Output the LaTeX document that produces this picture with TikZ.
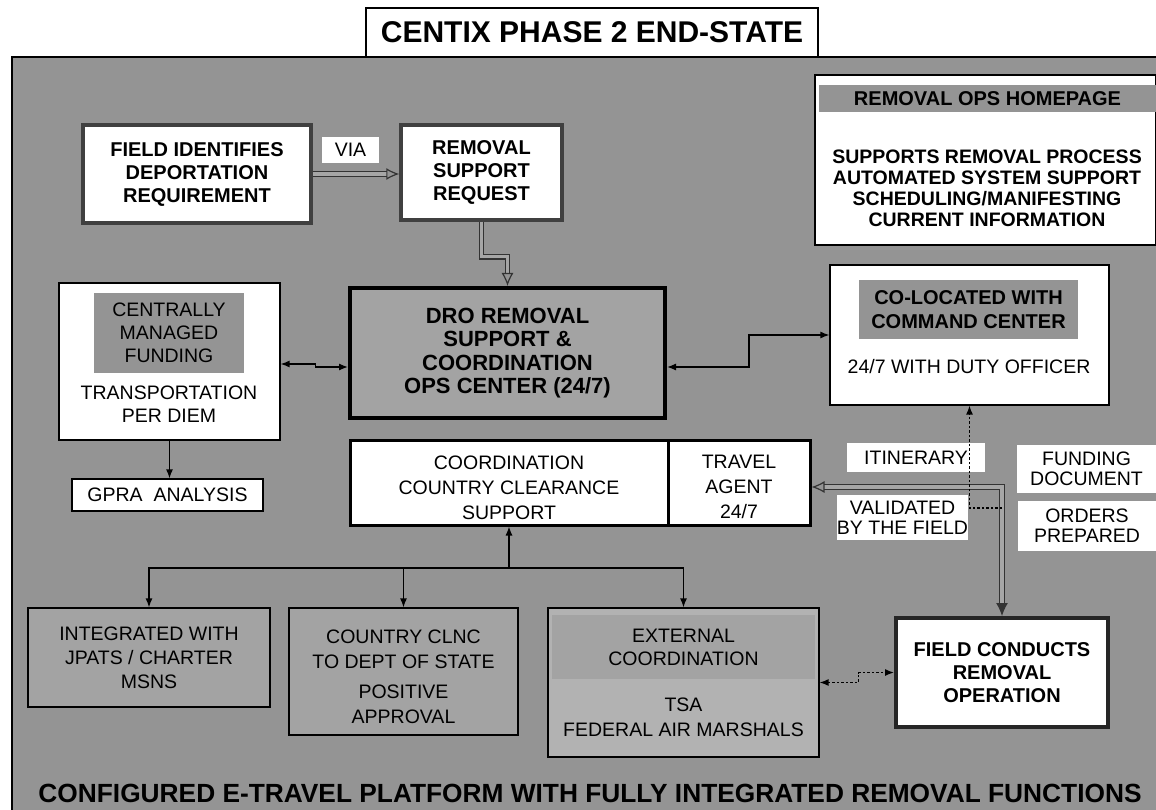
\documentclass[tikz,border=0pt]{standalone}
\usepackage{fontspec}
\setmainfont{Liberation Sans}
\usetikzlibrary{positioning,calc,arrows.meta}

\definecolor{bggray}{gray}{0.58}
\definecolor{boxgray}{gray}{0.64}
\definecolor{stripgray}{gray}{0.58}
\newcommand{\plainfont}{\fontsize{19.5}{23}\selectfont}
\newcommand{\headfont}{\fontsize{20}{23}\selectfont\bfseries}

\begin{document}
\begin{tikzpicture}[x=1pt, y=-1pt,
  box/.style={draw, line width=1.2pt, fill=white, inner sep=0pt, align=center, font=\plainfont},
  keybox/.style={draw=black!75, line width=3.5pt, fill=white, inner sep=0pt, align=center, font=\headfont},
  heavybox/.style={draw, line width=3pt, fill=white, inner sep=0pt, align=center, font=\plainfont},
  greybox/.style={draw, line width=1.2pt, fill=boxgray, inner sep=0pt, align=center, font=\plainfont},
  strip/.style={fill=stripgray, inner sep=0pt, align=center},
  tag/.style={fill=white, inner sep=0pt, align=center, font=\plainfont},
  txt/.style={inner sep=0pt, align=center, font=\plainfont},
  link/.style={line width=1.3pt, -{Latex[length=9pt,width=7pt]}},
  twolink/.style={line width=1.3pt, {Latex[length=9pt,width=7pt]}-{Latex[length=9pt,width=7pt]}},
  dotlink/.style={line width=1.3pt, dash pattern=on 2.5pt off 2pt},
  fatlink/.style={draw=black!80, line width=1.2pt, double=black!35, double distance=3.5pt},
]
\useasboundingbox (0,0) rectangle (1156,810);

% background panel
\fill[bggray] (12,57) rectangle (1156,810);
\draw[line width=1.2pt] (12,810) -- (12,57) -- (1156,57);

\node[draw, line width=1.2pt, fill=white, minimum width=452pt, minimum height=49pt,
  font=\fontsize{30}{34}\selectfont\bfseries] (title) at (592,32.5) {CENTIX PHASE 2 END-STATE};

% top row
\node[keybox, minimum width=228pt, minimum height=98pt] (field) at (197,174) {FIELD IDENTIFIES\\DEPORTATION\\REQUIREMENT};
\node[tag, minimum width=57pt, minimum height=26pt] (via) at (350.5,150) {VIA};
\node[keybox, minimum width=161pt, minimum height=95pt] (req) at (481.5,172.5) {REMOVAL\\SUPPORT\\REQUEST};

\node[box, minimum width=341pt, minimum height=170pt] (home) at (985.5,160) {};
\node[strip, minimum width=337pt, minimum height=27pt, font=\headfont] (homehead) at (987.5,98.5) {REMOVAL OPS HOMEPAGE};
\node[txt, font=\fontsize{19.5}{21}\selectfont\bfseries] (hometext) at (987,188) {SUPPORTS REMOVAL PROCESS\\AUTOMATED SYSTEM SUPPORT\\SCHEDULING/MANIFESTING\\CURRENT INFORMATION};

% middle row
\node[box, minimum width=221pt, minimum height=157pt] (central) at (169.5,361.5) {};
\node[strip, minimum width=150pt, minimum height=80pt, font=\plainfont] (centralhead) at (169,333) {CENTRALLY\\MANAGED\\FUNDING};
\node[txt] (centraltext) at (169,404.5) {TRANSPORTATION\\PER DIEM};

\node[draw, line width=4pt, fill=boxgray, minimum width=315pt, minimum height=130pt, align=center,
  font=\fontsize{22}{23.5}\selectfont\bfseries] (dro) at (507.5,353) {DRO REMOVAL\\SUPPORT \&\\COORDINATION\\OPS CENTER (24/7)};

\node[box, minimum width=279pt, minimum height=140pt] (coloc) at (969.5,335) {};
\node[strip, minimum width=219pt, minimum height=59pt, font=\fontsize{20}{24}\selectfont\bfseries] (colochead) at (968.5,309.5) {CO-LOCATED WITH\\COMMAND CENTER};
\node[txt] (colotext) at (969,367) {24/7 WITH DUTY OFFICER};

\node[box, minimum width=191pt, minimum height=32pt] (gpra) at (167.5,495) {GPRA\ \ ANALYSIS};

\node[heavybox, minimum width=318pt, minimum height=85pt] (coord) at (509,482.5) {};
\node[txt, font=\fontsize{19.5}{25}\selectfont] (coordtext) at (509,488) {COORDINATION\\COUNTRY CLEARANCE\\SUPPORT};
\node[heavybox, minimum width=142pt, minimum height=85pt] (travel) at (739,482.5) {};
\node[txt, font=\fontsize{19.5}{25}\selectfont] (traveltext) at (739,487) {TRAVEL\\AGENT\\24/7};

\node[tag, minimum width=138pt, minimum height=29pt, text width=116pt] (itin) at (916,457.5) {ITINERARY};
\node[tag, minimum width=125pt, minimum height=45pt, font=\fontsize{19.5}{20}\selectfont] (valid) at (902.5,517.5) {VALIDATED\\BY THE FIELD};
\node[tag, minimum width=139pt, minimum height=48pt, font=\fontsize{19.5}{20}\selectfont] (fund) at (1086.5,469) {FUNDING\\DOCUMENT};
\node[tag, minimum width=138pt, minimum height=50pt, font=\fontsize{19.5}{20}\selectfont] (orders) at (1087,526) {ORDERS\\PREPARED};

% bottom row
\node[greybox, minimum width=242pt, minimum height=99pt, font=\fontsize{19.5}{24}\selectfont] (integ) at (149,657.5) {INTEGRATED WITH\\JPATS / CHARTER\\MSNS};
\node[greybox, minimum width=229pt, minimum height=127pt] (cntry) at (403.5,671.5) {};
\node[txt, font=\fontsize{19.5}{25}\selectfont] (cntrytop) at (403.5,649.5) {COUNTRY CLNC\\TO DEPT OF STATE};
\node[txt, font=\fontsize{19.5}{25}\selectfont] (cntrybot) at (403.5,704.5) {POSITIVE\\APPROVAL};
\node[greybox, fill=black!30, minimum width=271pt, minimum height=149pt] (ext) at (683.5,682.5) {};
\node[strip, fill=boxgray, minimum width=263pt, minimum height=64pt, font=\fontsize{19.5}{23}\selectfont] (exthead) at (683.5,647) {EXTERNAL\\COORDINATION};
\node[txt, font=\fontsize{19.5}{25}\selectfont] (exttext) at (683.5,717.5) {TSA\\FEDERAL AIR MARSHALS};
\node[keybox, draw=black!85, line width=4pt, minimum width=212pt, minimum height=109pt] (fieldop) at (1002,672.5) {FIELD CONDUCTS\\REMOVAL\\OPERATION};

\node[inner sep=0pt, font=\fontsize{26.3}{30}\selectfont\bfseries] (platform) at (590,793) {CONFIGURED E-TRAVEL PLATFORM WITH FULLY INTEGRATED REMOVAL FUNCTIONS};

% connectors
\draw[fatlink, -{Latex[open,length=13pt,width=12pt]}] (field.east) -- (field.east -| req.west);
\draw[fatlink, -{Latex[open,length=13pt,width=12pt]}] (req.south) -- ++(0,35) -| (dro.north);
\draw[fatlink, {Latex[open,length=13pt,width=12pt]}-{Latex[length=13pt,width=12pt]}] ($(travel.east)+(0,4.5)$) -| (fieldop.north);

\draw[twolink] ($(central.east)+(0,2.5)$) -- ++(35,0) |- ($(dro.west)+(0,14)$);
\draw[twolink] ($(dro.east)+(0,14)$) -- ++(82,0) |- (coloc.west);
\draw[link] (central.south) -- (central.south |- gpra.north);

\coordinate (fork) at (509,568);
\draw[link] (fork) -- (coord.south);
\draw[link] (fork) -| (integ.north);
\draw[link] (fork) -| (cntry.north);
\draw[link] (fork) -| (ext.north);

\coordinate (tap) at (1002,508);
\draw[dotlink, -{Latex[length=9pt,width=7pt]}] (tap) -| (coloc.south);
\draw[dotlink, {Latex[length=9pt,width=7pt]}-{Latex[length=9pt,width=7pt]}] (ext.east) -- ++(39,0) |- (fieldop.west);

\end{tikzpicture}
\end{document}
